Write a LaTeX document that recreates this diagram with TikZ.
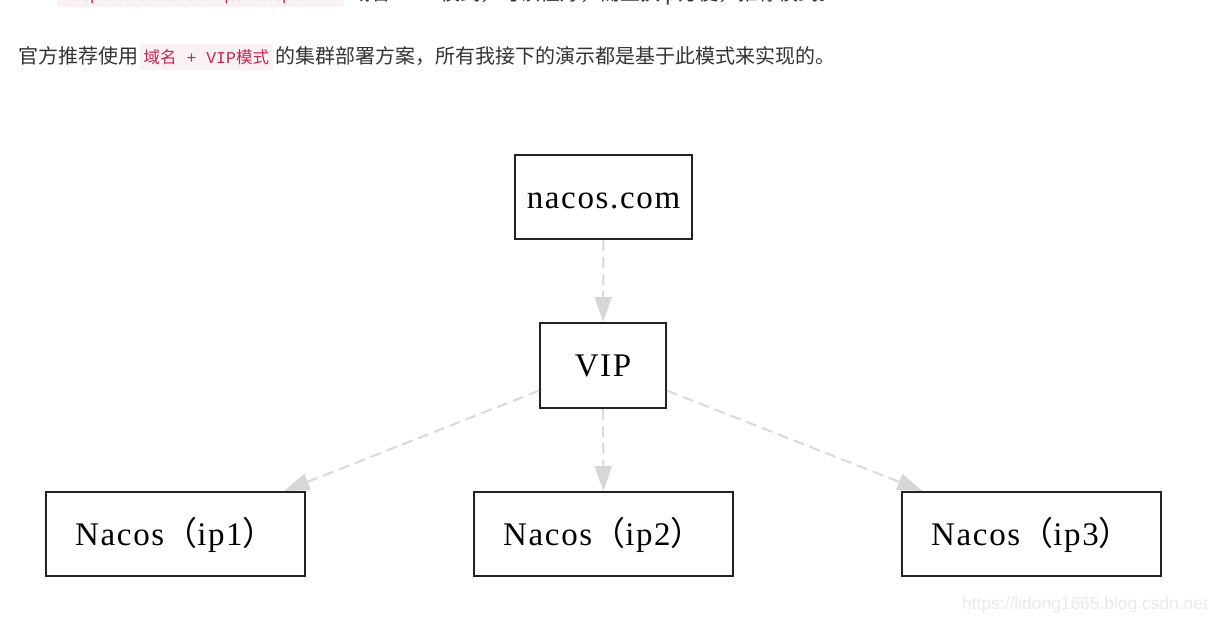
\documentclass[tikz,border=0pt]{standalone}
\usepackage{fontspec}
\setmainfont{Liberation Serif}
\newfontfamily\boxfont[LetterSpace=5]{Liberation Serif}
\newfontfamily\cjk{Noto Sans CJK SC}
\newfontfamily\monof{Liberation Mono}
\newfontfamily\sansf{Liberation Sans}
\usetikzlibrary{arrows.meta}
\definecolor{txt}{HTML}{333333}
\definecolor{codebg}{HTML}{F9F2F4}
\definecolor{codefg}{HTML}{C7254E}
\definecolor{boxc}{HTML}{222222}
\definecolor{edgec}{HTML}{DADADA}
\definecolor{arrowc}{HTML}{D6D6D6}
\definecolor{wmark}{HTML}{EAEAEA}
\tikzset{
  para/.style={anchor=base west, inner sep=0pt, text=txt, font=\cjk\fontsize{20}{24}\selectfont},
  codebox/.style={anchor=base west, fill=codebg, text=codefg, inner xsep=4pt, inner ysep=0pt,
    text height=19pt, text depth=7pt, rounded corners=2pt, font=\fontsize{16.5}{20}\selectfont},
  gbox/.style={draw=boxc, line width=2pt, inner sep=0pt, fill=white,
    text height=22pt, text depth=0pt, font=\boxfont\fontsize{33}{40}\selectfont},
  edge/.style={draw=edgec, line width=2pt, dash pattern=on 11pt off 6pt,
    -{Triangle[length=25pt,width=17pt,fill=arrowc,color=arrowc]}},
}
\begin{document}
\begin{tikzpicture}[x=1pt,y=-1pt]
\useasboundingbox (0,0) rectangle (1220,624);
\clip (0,0) rectangle (1220,624);
\fill[white] (0,0) rectangle (1220,624);

% first line (cut off at the top edge, as in the reference)
\node[codebox, font=\monof\fontsize{16}{20}\selectfont, text height=19pt, text depth=7pt] (c0) at (57,0) {http://nacos.com:port/openAPI};
\node[para] (t0) at ([xshift=6pt]c0.base east) {域名 + VIP模式，可读性好，而且换ip方便，推荐模式。};

% second line
\node[para] (t1) at (18,63) {官方推荐使用};
\node[codebox] (c1) at ([xshift=1pt]t1.base east) {{\cjk 域名}{\monof\ + VIP}{\cjk 模式}};
\node[para] (t2) at ([xshift=2pt]c1.base east) {的集群部署方案，所有我接下的演示都是基于此模式来实现的。};

% diagram
\node[gbox, minimum width=177pt, minimum height=84pt] (nacos) at (603.5,197) {nacos.com};
\node[gbox, minimum width=126pt, minimum height=85pt] (vip) at (603,365.5) {VIP};
\node[gbox, minimum width=259pt, minimum height=84pt] (ip1) at (175.5,534) {Nacos{\cjk （}ip1{\cjk ）}};
\node[gbox, minimum width=259pt, minimum height=84pt] (ip2) at (603.5,534) {Nacos{\cjk （}ip2{\cjk ）}};
\node[gbox, minimum width=259pt, minimum height=84pt] (ip3) at (1031.5,534) {Nacos{\cjk （}ip3{\cjk ）}};

\draw[edge] (nacos) -- (vip);
\draw[edge] (vip) -- (ip1);
\draw[edge] (vip) -- (ip2);
\draw[edge] (vip) -- (ip3);

% watermark
\node[anchor=base west, inner sep=0pt, text=wmark, font=\sansf\fontsize{17.4}{20}\selectfont] (wm) at (962,609) {https://lidong1665.blog.csdn.net};
\end{tikzpicture}
\end{document}
